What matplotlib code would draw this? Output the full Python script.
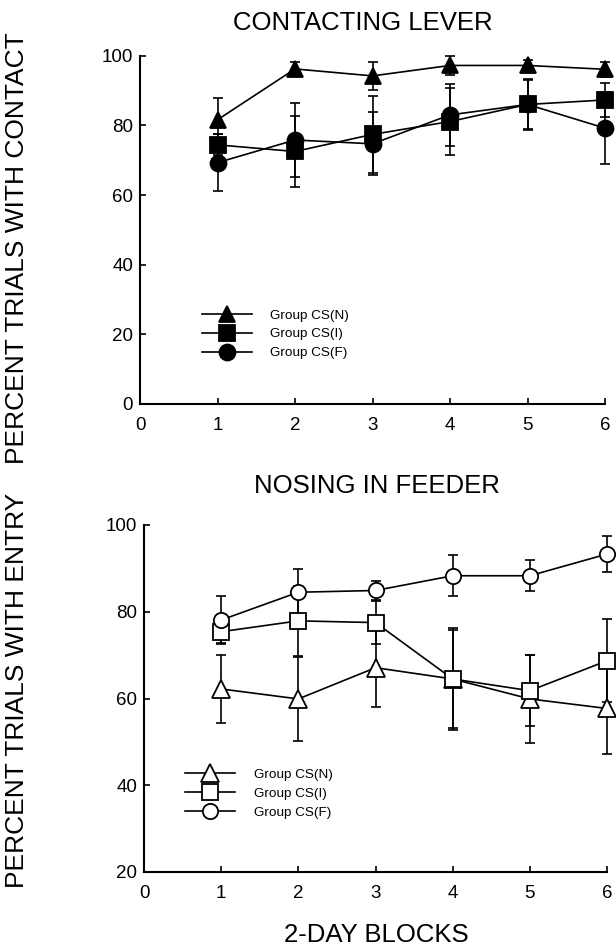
import matplotlib
matplotlib.use("Agg")
import matplotlib.pyplot as plt

plt.rcParams['font.family'] = ['Liberation Sans', 'DejaVu Sans']

# 2-day blocks
blocks = [1, 2, 3, 4, 5, 6]
group_labels = ['Group CS(N)', 'Group CS(I)', 'Group CS(F)']

# Contacting lever (percent trials with contact), mean and error
contact_n = [81.6, 96.2, 94.2, 97.2, 97.2, 96.1]
contact_n_err = [6.2, 2.0, 4.1, 2.8, 1.6, 2.2]
contact_i = [74.4, 72.5, 77.4, 81.1, 86.0, 87.3]
contact_i_err = [3.0, 10.2, 11.0, 9.5, 7.0, 4.8]
contact_f = [69.3, 75.8, 74.7, 83.0, 86.0, 79.2]
contact_f_err = [8.1, 10.5, 9.0, 9.0, 7.2, 10.4]

# Nosing in feeder (percent trials with entry), mean and error
entry_n = [62.2, 59.9, 67.1, 64.5, 59.9, 57.7]
entry_n_err = [7.9, 9.7, 9.0, 11.3, 10.1, 10.5]
entry_i = [75.4, 77.9, 77.5, 64.5, 61.8, 68.7]
entry_i_err = [2.5, 8.0, 5.0, 11.8, 8.2, 9.6]
entry_f = [78.1, 84.5, 84.9, 88.3, 88.3, 93.3]
entry_f_err = [5.5, 5.4, 2.3, 4.7, 3.6, 4.1]

W, H = 616, 948
fig = plt.figure(figsize=(W / 100, H / 100), dpi=100)
ax1 = fig.add_axes([140 / W, 1 - 404 / H, 465 / W, 348.3 / H])
ax2 = fig.add_axes([144 / W, 1 - 872 / H, 463 / W, 347 / H])


def draw_panel(ax, series, markers, sizes, face, ylim, yticks, leg_xy):
    handles = []
    for (vals, err), m, ms, lab in zip(series, markers, sizes, group_labels):
        ax.errorbar(blocks, vals, yerr=err, fmt='none', ecolor='k',
                    elinewidth=1.2, capsize=3.6, capthick=1.2, clip_on=False, zorder=2)
        ln, = ax.plot(blocks, vals, marker=m, ms=ms, color='k', lw=1.2,
                      mfc=face, mec='k', mew=1.3, clip_on=False, zorder=3, label=lab)
        handles.append(ln)
    ax.set_xlim(0, 6)
    ax.set_ylim(*ylim)
    ax.set_xticks(range(0, 7))
    ax.set_yticks(yticks)
    for s in ['top', 'right']:
        ax.spines[s].set_visible(False)
    for s in ['left', 'bottom']:
        ax.spines[s].set_linewidth(1.5)
    ax.tick_params(direction='in', length=4.5, width=1.2, labelsize=13.5)
    ax.tick_params(axis='x', pad=9)
    ax.tick_params(axis='y', pad=5)
    ax.legend(handles=handles, loc='upper left', bbox_to_anchor=leg_xy,
              bbox_transform=ax.transData, frameon=False, fontsize=9.7,
              borderpad=0, borderaxespad=0, handlelength=3.7, handletextpad=1.4,
              labelspacing=0.47)


draw_panel(ax1,
           [(contact_n, contact_n_err), (contact_i, contact_i_err), (contact_f, contact_f_err)],
           ['^', 's', 'o'], [12, 12, 11.5], 'k',
           (0, 100), [0, 20, 40, 60, 80, 100], (0.796, 27.2))
draw_panel(ax2,
           [(entry_n, entry_n_err), (entry_i, entry_i_err), (entry_f, entry_f_err)],
           ['^', 's', 'o'], [13, 11.5, 11], 'white',
           (20, 100), [20, 40, 60, 80, 100], (0.53, 43.8))

fig.text(363 / W, 1 - 22.6 / H, 'CONTACTING LEVER', ha='center', va='center', fontsize=18.5)
fig.text(377 / W, 1 - 486 / H, 'NOSING IN FEEDER', ha='center', va='center', fontsize=18.5)
fig.text(17 / W, 1 - 248 / H, 'PERCENT TRIALS WITH CONTACT', ha='center', va='center',
         rotation=90, fontsize=19)
fig.text(17 / W, 1 - 690 / H, 'PERCENT TRIALS WITH ENTRY', ha='center', va='center',
         rotation=90, fontsize=19)
fig.text(376 / W, 1 - 935 / H, '2-DAY BLOCKS', ha='center', va='center', fontsize=18.5)

fig.savefig('out.png', dpi=100)
